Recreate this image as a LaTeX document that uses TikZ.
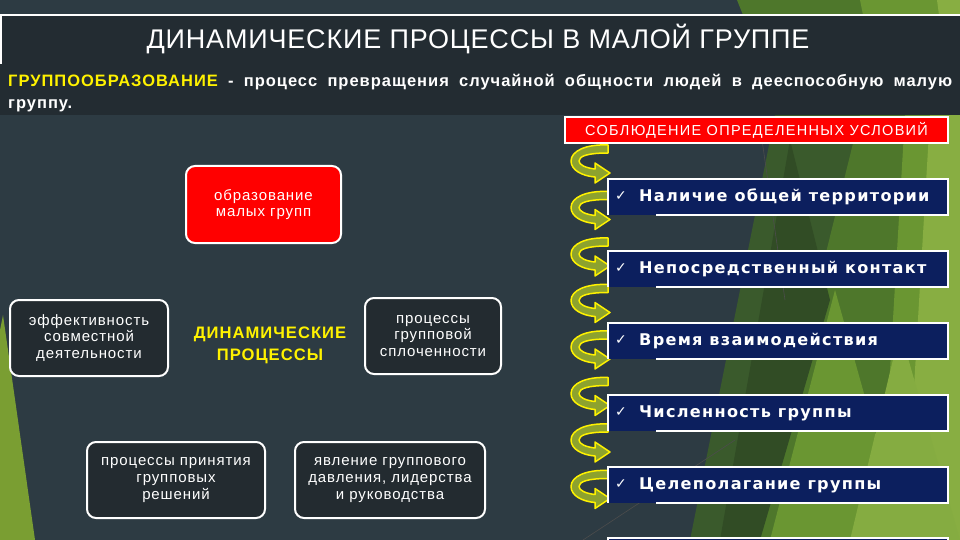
\documentclass[tikz,border=0pt]{standalone}
\usepackage{fontspec}
\setmainfont{Liberation Sans}
\newfontfamily\lsans[LetterSpace=6]{Liberation Sans}
\newfontfamily\tsans[LetterSpace=3]{Liberation Sans}
\newfontfamily\csans[LetterSpace=9]{Liberation Sans}
\newfontfamily\dvb[LetterSpace=8]{DejaVu Sans}
\newfontfamily\dv{DejaVu Sans}
\definecolor{bgc}{HTML}{2D3B43}
\definecolor{hdr}{HTML}{232C32}
\definecolor{navy}{HTML}{0C1F5E}
\definecolor{boxdark}{HTML}{232B30}
\definecolor{arrfill}{HTML}{8DA22E}
\definecolor{gA}{HTML}{3A5A2C}
\definecolor{gB}{HTML}{4E772B}
\definecolor{gC}{HTML}{6A9632}
\definecolor{gD}{HTML}{88AE42}
\definecolor{gL}{HTML}{7A9E32}
\tikzset{
  roundbox/.style={draw=white, line width=2pt, rounded corners=9pt, align=center, text=white,
    inner sep=2pt, font=\lsans\fontsize{15}{16.8}\selectfont},
  darkbox/.style={roundbox, fill=boxdark},
  condtext/.style={anchor=west, text=white, inner sep=0pt, font=\dvb\bfseries\fontsize{16.1}{18}\selectfont},
  checkmark/.style={anchor=west, text=white, inner sep=0pt, font=\dv\fontsize{14}{14}\selectfont},
  curvarrow/.pic={
    \filldraw[fill=arrfill, draw=yellow, line width=1.5pt, line join=round]
      (0,0) .. controls (-22,-1) and (-37,6) .. (-37,16)
      .. controls (-37,25) and (-26,31) .. (-13,32) -- (-13,38) -- (2,28) -- (-13,18) -- (-13,24)
      .. controls (-22,23) and (-29,20) .. (-29,16)
      .. controls (-29,11) and (-20,8) .. (0,8) -- cycle;
  }
}
\begin{document}
\begin{tikzpicture}[x=1pt,y=-1pt]
\useasboundingbox (0,0) rectangle (960,540);
% background
\fill[bgc] (0,0) rectangle (960,540);
% green shapes right
\fill[gA] (775,115) -- (960,115) -- (960,540) -- (690,540) -- cycle;
\fill[gB] (860,115) -- (960,115) -- (960,540) -- (755,540) -- cycle;
\fill[gA!85!black] (790,140) -- (830,300) -- (760,540) -- (720,540) -- cycle;
\fill[gC] (835,290) -- (905,540) -- (770,540) -- cycle;
\fill[gC] (905,115) -- (960,115) -- (960,540) -- (880,540) -- cycle;
\fill[gD] (930,115) -- (960,115) -- (960,540) -- (905,540) -- cycle;
\fill[gD!90!gC] (900,330) -- (960,540) -- (850,540) -- cycle;
\draw[black!70, line width=0.6pt] (762,140) -- (785,300);
\draw[black!70, line width=0.6pt] (583,540) -- (735,440);
% top strip greens
\fill[gB] (737,0) -- (960,0) -- (960,15) -- (743,15) -- cycle;
\fill[gC] (860,0) -- (960,0) -- (960,15) -- (863,15) -- cycle;
\fill[gD] (937,0) -- (960,0) -- (960,15) -- (939,15) -- cycle;
% left green spike
\fill[gL] (0,330) -- (3,315) -- (35,540) -- (0,540) -- cycle;
% header band
\fill[hdr] (0,15) rectangle (960,115);
\draw[white, line width=1.5pt] (1,64) -- (1,15) -- (960,15);
\node[text=white, font=\tsans\fontsize{27}{30}\selectfont] (title) at (478,39) {ДИНАМИЧЕСКИЕ ПРОЦЕССЫ В МАЛОЙ ГРУППЕ};
\node[anchor=north west, text width=944pt, align=justify, inner sep=0pt, text=white,
  font=\lsans\bfseries\fontsize{16.5}{22}\selectfont] (def) at (8,74)
  {\textcolor{yellow}{ГРУППООБРАЗОВАНИЕ} - процесс превращения случайной общности людей в дееспособную малую группу.};
% conditions header
\node[draw=white, line width=2pt, fill=red, text=white, minimum width=383pt, minimum height=26pt,
  inner sep=0pt, font=\csans\fontsize{14.5}{16}\selectfont] (cond) at (756.5,130) {СОБЛЮДЕНИЕ ОПРЕДЕЛЕННЫХ УСЛОВИЙ};
% curved arrows
\foreach \t [count=\i] in {145,191.5,238,284.5,331,377.5,424,470.5} {
  \pic (arr\i) at (608,\t) {curvarrow};
}
% condition boxes
\foreach \t/\txt [count=\i] in {179/Наличие общей территории, 251/Непосредственный контакт, 323/Время взаимодействия, 395/Численность группы, 467/Целеполагание группы} {
  \fill[navy] (608,\t) rectangle (948,\t+36);
  \draw[white, line width=1.5pt] (656,\t+36) -- (948,\t+36) -- (948,\t) -- (608,\t) -- (608,\t+36);
  \node[checkmark] (chk\i) at (615,\t+17) {✓};
  \node[condtext] (c\i) at (639,\t+18) {\txt};
}
% partial box at bottom
\fill[navy] (608,538) rectangle (948,545);
\draw[white, line width=1.5pt] (608,545) -- (608,538) -- (948,538) -- (948,545);
% left nodes
\node[roundbox, fill=red, minimum width=155pt, minimum height=77pt] (form) at (263.5,204.5) {образование\\малых групп};
\node[darkbox, minimum width=158pt, minimum height=76pt] (eff) at (89,338) {эффективность\\совместной\\деятельности};
\node[darkbox, minimum width=136pt, minimum height=76pt] (coh) at (433,336) {процессы\\групповой\\сплоченности};
\node[text=yellow, align=center, font=\lsans\bfseries\fontsize{16.6}{22}\selectfont] (dyn) at (270,345) {ДИНАМИЧЕСКИЕ\\ПРОЦЕССЫ};
\node[darkbox, minimum width=178pt, minimum height=76pt] (dec) at (176,480) {процессы принятия\\групповых\\решений};
\node[darkbox, minimum width=190pt, minimum height=76pt] (pres) at (390,480) {явление группового\\давления, лидерства\\и руководства};
\end{tikzpicture}
\end{document}
